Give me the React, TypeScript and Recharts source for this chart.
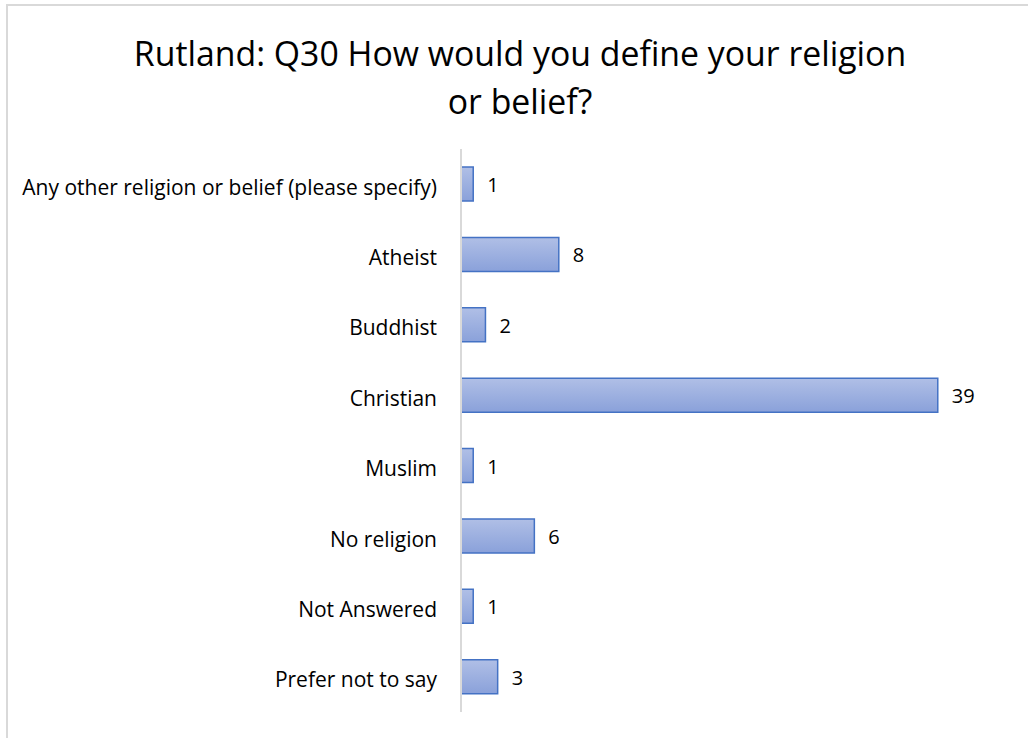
import React from "react";
import { BarChart, Bar, XAxis, YAxis, LabelList } from "recharts";

const categories = [
  "Any other religion or belief (please specify)",
  "Atheist",
  "Buddhist",
  "Christian",
  "Muslim",
  "No religion",
  "Not Answered",
  "Prefer not to say",
];
const counts = [1, 8, 2, 39, 1, 6, 1, 3];

const data = categories.map((c, i) => ({ name: c, value: counts[i] }));

const FONT = "'Open Sans', 'Liberation Sans', sans-serif";

export default function App() {
  return (
    <div
      style={{
        position: "absolute",
        left: 0,
        top: 0,
        width: 1028,
        height: 738,
        overflow: "hidden",
        background: "#fff",
        fontFamily: FONT,
      }}
    >
      <div
        style={{
          position: "absolute",
          left: 6,
          top: 4,
          width: 1040,
          height: 760,
          border: "2px solid #d9d9d9",
          boxSizing: "border-box",
        }}
      />
      <div
        style={{
          position: "absolute",
          left: 0,
          top: 29,
          width: 1040,
          textAlign: "center",
          fontSize: 33.8,
          lineHeight: "48px",
          color: "#000",
          fontFamily: FONT,
        }}
      >
        Rutland: Q30 How would you define your religion
        <br />
        or belief?
      </div>
      <div style={{ position: "absolute", left: 0, top: 0 }}>
        <BarChart
          width={1028}
          height={738}
          data={data}
          layout="vertical"
          margin={{ top: 149, right: 78, bottom: 26, left: 0 }}
          barSize={34}
        >
          <defs>
            <linearGradient id="barGrad" x1="0" y1="0" x2="0" y2="1">
              <stop offset="0%" stopColor="#b0bfe6" />
              <stop offset="100%" stopColor="#8aa1da" />
            </linearGradient>
          </defs>
          <XAxis type="number" domain={[0, 40]} hide />
          <YAxis
            type="category"
            dataKey="name"
            width={461}
            tickLine={false}
            axisLine={{ stroke: "#d9d9d9", strokeWidth: 2 }}
            tick={{ fill: "#000", fontSize: 21, fontFamily: FONT, dy: 3 }}
            tickMargin={18}
            interval={0}
          />
          <Bar
            dataKey="value"
            fill="url(#barGrad)"
            stroke="#4472c4"
            strokeWidth={1.5}
            isAnimationActive={false}
          >
            <LabelList
              dataKey="value"
              position="right"
              offset={14}
              fill="#000"
              fontSize={20}
              fontFamily={FONT}
              dy={1}
            />
          </Bar>
        </BarChart>
      </div>
    </div>
  );
}
